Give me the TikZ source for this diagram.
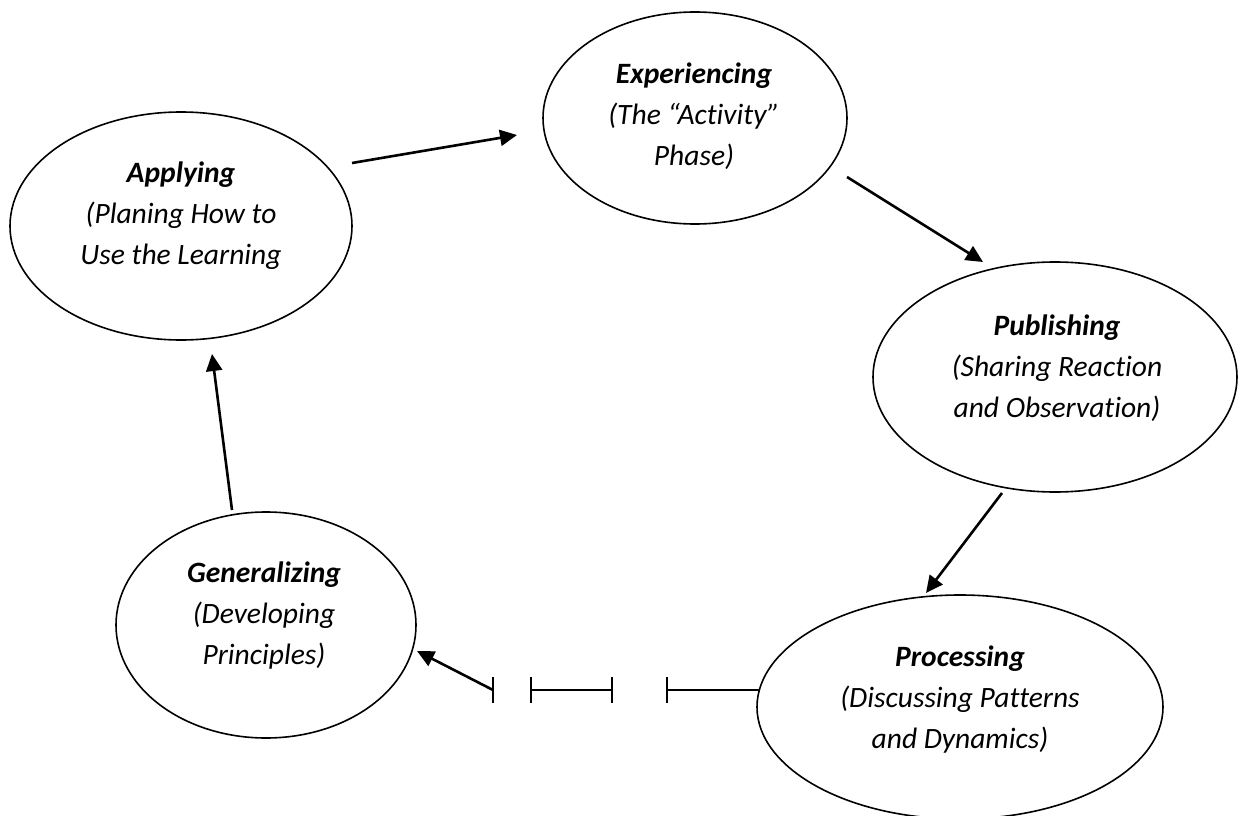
\documentclass[tikz,border=0pt]{standalone}
\usepackage{fontspec}
\setmainfont[Ligatures=NoCommon]{Carlito}
\usetikzlibrary{shapes.geometric,arrows.meta,calc}
\tikzset{
  phase/.style={draw, ellipse, line width=1.6pt, inner sep=0pt},
  phasetext/.style={align=center, font=\fontsize{29.5}{41}\selectfont\itshape},
  flow/.style={line width=2.6pt, -{Triangle[length=17pt,width=16pt]}},
  seg/.style={line width=1.8pt},
  barend/.style={{Bar[width=26pt,line width=1.8pt]}-{Bar[width=26pt,line width=1.8pt]}}
}
\begin{document}
\begin{tikzpicture}[x=1pt,y=-1pt]
\useasboundingbox (0,0) rectangle (1240,816);
\clip (0,0) rectangle (1240,816);
% ellipses
\node[phase, minimum width=342pt, minimum height=228pt] (app) at (181,226) {};
\node[phase, minimum width=304pt, minimum height=212pt] (exp) at (695,118) {};
\node[phase, minimum width=364pt, minimum height=230pt] (pub) at (1055,377) {};
\node[phase, minimum width=406pt, minimum height=224pt] (proc) at (960,707) {};
\node[phase, minimum width=300pt, minimum height=226pt] (gen) at (266,625) {};
% texts
\node[phasetext] (appT) at (181,216) {\textbf{Applying}\\(Planing How to\\Use the Learning};
\node[phasetext] (expT) at (694,116) {\textbf{Experiencing}\\(The “Activity”\\Phase)};
\node[phasetext] (pubT) at (1057,368) {\textbf{Publishing}\\(Sharing Reaction\\and Observation)};
\node[phasetext] (procT) at (960,700) {\textbf{Processing}\\(Discussing Patterns\\and Dynamics)};
\node[phasetext] (genT) at (264,616) {\textbf{Generalizing}\\(Developing\\Principles)};
% connector end points
\coordinate (a1) at (352,163);
\coordinate (a2) at (517,135);
\coordinate (b1) at (847,177);
\coordinate (b2) at (983,262);
\coordinate (c1) at (1002,493);
\coordinate (c2) at (926,593);
\coordinate (d1) at (759,690);
\coordinate (d2) at (666,690);
\coordinate (d3) at (613,690);
\coordinate (d4) at (530,690);
\coordinate (d5) at (493,690);
\coordinate (d6) at (417,651);
\coordinate (d5t) at (493,677);
\coordinate (d5b) at (493,703);
\coordinate (e1) at (232,510);
\coordinate (e2) at (212,354);
% connectors
\draw[flow] (a1) -- (a2);
\draw[flow] (b1) -- (b2);
\draw[flow] (c1) -- (c2);
\draw[seg, -{Bar[width=26pt,line width=1.8pt]}] (d1) -- (d2);
\draw[seg, barend] (d3) -- (d4);
\draw[seg] (d5t) -- (d5b);
\draw[flow] (d5) -- (d6);
\draw[flow] (e1) -- (e2);
\end{tikzpicture}
\end{document}
